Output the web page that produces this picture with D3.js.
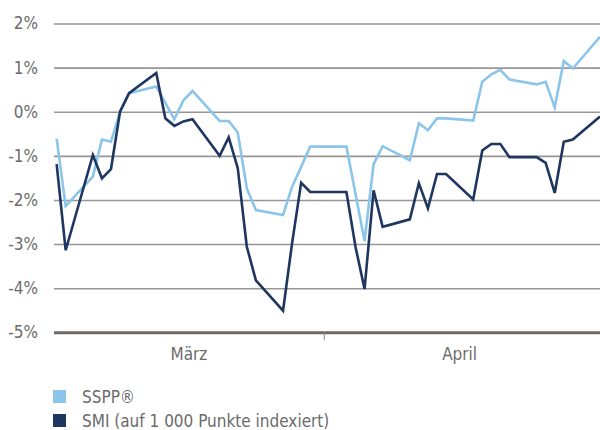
<!DOCTYPE html>
<html>
<head>
<meta charset="utf-8">
<script src="https://cdn.jsdelivr.net/npm/d3@7"></script>
<style>
    body { margin: 0; background: #fff; }
    svg { display: block; }
    text { font-family: "Liberation Sans Narrow", "DejaVu Sans Condensed", "Roboto", sans-serif; fill: #6b6b6b; }
</style>
</head>
<body>
<svg width="600" height="430"></svg>
<script>
// trading days (2017), values in % change
const dates = [
    "03-02", "03-03", "03-06", "03-07", "03-08", "03-09", "03-10",
    "03-13", "03-14", "03-15", "03-16", "03-17",
    "03-20", "03-21", "03-22", "03-23", "03-24",
    "03-27", "03-28", "03-29", "03-30", "03-31",
    "04-03", "04-04", "04-05", "04-06", "04-07",
    "04-10", "04-11", "04-12", "04-13", "04-14",
    "04-17", "04-18", "04-19", "04-20", "04-21",
    "04-24", "04-25", "04-26", "04-27", "04-28",
    "05-01"
];
const sspp = [
    -0.61, -2.14, -1.47, -0.63, -0.68, 0.00, 0.42,
    0.57, 0.20, -0.17, 0.26, 0.47,
    -0.21, -0.21, -0.47, -1.74, -2.23,
    -2.34, -1.70, -1.25, -0.79, -0.79,
    -0.79, -1.86, -2.93, -1.19, -0.78,
    -1.10, -0.26, -0.42, -0.15, -0.15,
    -0.20, 0.68, 0.85, 0.95, 0.73,
    0.62, 0.68, 0.10, 1.15, 0.98,
    1.70
];
const smi = [
    -1.19, -3.14, -0.98, -1.51, -1.30, 0.00, 0.42,
    0.88, -0.15, -0.32, -0.22, -0.17,
    -1.00, -0.58, -1.28, -3.06, -3.82,
    -4.51, -2.98, -1.61, -1.82, -1.82,
    -1.82, -3.06, -4.02, -1.78, -2.61,
    -2.44, -1.62, -2.19, -1.41, -1.41,
    -1.99, -0.88, -0.73, -0.73, -1.03,
    -1.03, -1.16, -1.84, -0.68, -0.63,
    -0.11
];
const yTicks = [-5, -4, -3, -2, -1, 0, 1, 2];
const months = [
    {name: "März", start: "2017-03-01", end: "2017-04-01"},
    {name: "April", start: "2017-04-01", end: "2017-05-01"}
];
const series = [
    {name: "SSPP®", values: sspp, color: "#8cc5ea"},
    {name: "SMI (auf 1 000 Punkte indexiert)", values: smi, color: "#1f3660"}
];

const svg = d3.select("svg");
const plotLeft = 54, plotRight = 600, plotTop = 23.5, plotBottom = 332.3;

// points sit in the middle of their day
const parse = s => new Date("2017-" + s + "T12:00:00Z");

const x = d3.scaleUtc()
    .domain([new Date(Date.UTC(2017, 2, 2, 5)), new Date(Date.UTC(2017, 4, 1, 12))])
    .range([plotLeft, plotRight]);
const y = d3.scaleLinear().domain([-5, 2]).range([plotBottom, plotTop]);

// gridlines + labels
const yAxis = svg.append("g")
    .attr("transform", `translate(${plotLeft},0)`)
    .call(d3.axisLeft(y).tickValues(yTicks).tickFormat(d => d + "%")
        .tickSize(-(plotRight - plotLeft)).tickPadding(16));
yAxis.select(".domain").remove();
yAxis.selectAll(".tick line")
    .attr("stroke", "#969696")
    .attr("stroke-width", 1.6);
yAxis.selectAll(".tick text")
    .attr("font-size", 17)
    .style("fill", "#6b6b6b");
yAxis.selectAll(".tick").filter(d => d === -5).select("line")
    .attr("stroke", "#6e6a66")
    .attr("stroke-width", 3);

// month separator tick
const xAxis = svg.append("g")
    .attr("transform", `translate(0,${plotBottom})`)
    .call(d3.axisBottom(x).tickValues([new Date(Date.UTC(2017, 3, 1))]).tickSize(8).tickFormat(""));
xAxis.select(".domain").remove();
xAxis.selectAll(".tick line").attr("stroke", "#8a8a8a").attr("stroke-width", 1);

svg.append("g").selectAll("text")
    .data(months)
    .join("text")
    .attr("x", d => {
        const a = Math.max(x(new Date(d.start + "T00:00:00Z")), plotLeft);
        const b = Math.min(x(new Date(d.end + "T00:00:00Z")), plotRight);
        return (a + b) / 2;
    })
    .attr("y", 360)
    .attr("text-anchor", "middle")
    .attr("font-size", 17)
    .text(d => d.name);

// lines
const line = d3.line()
    .x((d, i) => x(parse(dates[i])))
    .y(d => y(d));

svg.append("g").selectAll("path")
    .data(series)
    .join("path")
    .attr("fill", "none")
    .attr("stroke", d => d.color)
    .attr("stroke-width", 2.6)
    .attr("stroke-linejoin", "miter")
    .attr("d", d => line(d.values));

// legend
const legend = svg.append("g").selectAll("g")
    .data(series)
    .join("g")
    .attr("transform", (d, i) => `translate(53,${390 + i * 24})`);
legend.append("rect")
    .attr("width", 13).attr("height", 13)
    .attr("fill", d => d.color);
legend.append("text")
    .attr("x", 29).attr("y", 12.5)
    .attr("font-size", 17)
    .text(d => d.name);
</script>
</body>
</html>
